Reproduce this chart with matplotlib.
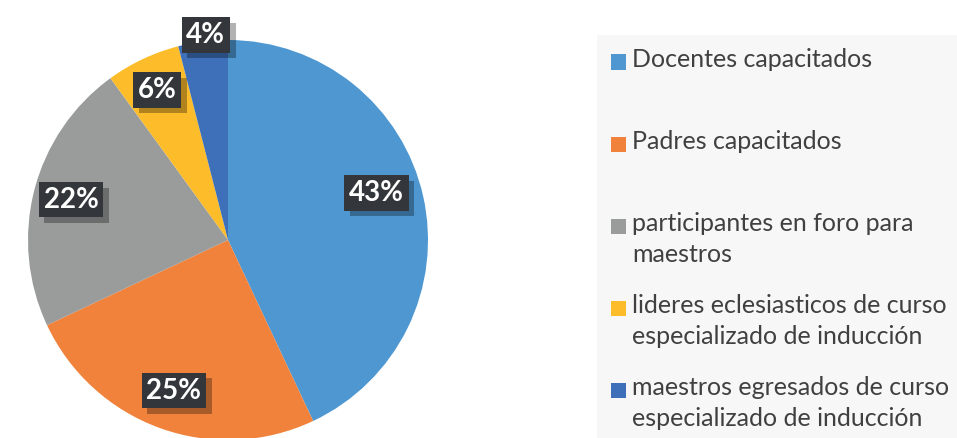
import matplotlib

matplotlib.use("Agg")
import matplotlib.pyplot as plt
import matplotlib.patheffects as pe
import numpy as np
from matplotlib.patches import Rectangle

# datos del gráfico
categorias = [
    "Docentes capacitados",
    "Padres capacitados",
    "participantes en foro para\nmaestros",
    "lideres eclesiasticos de curso\nespecializado de inducción",
    "maestros egresados de curso\nespecializado de inducción",
]
porcentajes = [43, 25, 22, 6, 4]
colores = ["#4e97d1", "#f1823b", "#9a9c9c", "#fdbd2b", "#3d70b9"]

# posición relativa de cada etiqueta (Excel "best fit")
radio_etiqueta = [0.78, 0.80, 0.81, 0.83, 1.03]
ajuste_angulo = [5, 0, 0, 0, -1]

W, H = 957, 438
fig = plt.figure(figsize=(W / 100, H / 100), dpi=100)

# fondo gris claro de la leyenda
fig.patches.append(
    Rectangle((597 / W, 0), (W - 597) / W, (H - 35) / H,
              transform=fig.transFigure, facecolor="#f7f7f7", edgecolor="none", zorder=0)
)

ax = fig.add_axes([28 / W, (H - 440) / H, 400 / W, 400 / H])
wedges, _ = ax.pie(
    porcentajes,
    colors=colores,
    startangle=90,
    counterclock=False,
    radius=1,
    wedgeprops={"linewidth": 0},
)
ax.set_xlim(-1, 1)
ax.set_ylim(-1, 1)
ax.set_aspect("equal")
ax.axis("off")

for w, p, r, da in zip(wedges, porcentajes, radio_etiqueta, ajuste_angulo):
    ang = np.deg2rad((w.theta1 + w.theta2) / 2 + da)
    x, y = r * np.cos(ang), r * np.sin(ang)
    t = ax.text(x, y, f"{p}%", ha="center", va="center",
                fontsize=20, fontweight="bold", family="Lato", color="white",
                bbox=dict(boxstyle="square,pad=0.17", facecolor="#33373b", edgecolor="none"),
                zorder=6)
    t.get_bbox_patch().set_path_effects([
        pe.SimplePatchShadow(offset=(4, -4), shadow_rgbFace="black", alpha=0.3),
        pe.Normal(),
    ])

# leyenda manual
y0, paso = 62, 82
for i, (cat, col) in enumerate(zip(categorias, colores)):
    yc = y0 + i * paso
    fig.patches.append(
        Rectangle((611 / W, (H - yc - 7.5) / H), 15 / W, 15 / H,
                  transform=fig.transFigure, facecolor=col, edgecolor="none", zorder=2)
    )
    fig.text(632 / W, (H - yc + 14) / H, cat, ha="left", va="top", family="Lato",
             fontsize=18, color="#404040", linespacing=1.42, zorder=3)

fig.savefig("out.png", dpi=100)
